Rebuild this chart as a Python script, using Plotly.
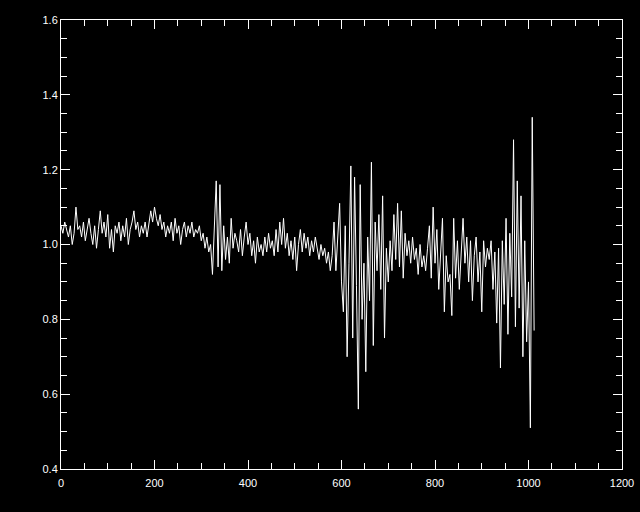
import numpy as np
import plotly.graph_objects as go

x_step = 4
values = [
    1.05, 1.03, 1.06, 1.04, 1.02, 1.05, 1.00, 1.03, 1.10, 1.04,
    1.05, 1.02, 1.06, 1.01, 1.04, 1.07, 1.03, 1.00, 1.05, 0.99,
    1.04, 1.09, 1.03, 1.06, 1.02, 1.08, 0.99, 1.04, 0.98, 1.05,
    1.03, 1.06, 1.01, 1.05, 1.02, 1.07, 1.00, 1.04, 1.06, 1.09,
    1.04, 1.06, 1.02, 1.05, 1.03, 1.06, 1.02, 1.05, 1.09, 1.06,
    1.10, 1.07, 1.05, 1.08, 1.04, 1.06, 1.02, 1.05, 1.03, 1.06,
    1.01, 1.07, 1.03, 1.05, 1.00, 1.04, 1.06, 1.02, 1.05, 1.03,
    1.06, 1.02, 1.04, 1.03, 1.05, 1.01, 1.03, 0.99, 1.02, 0.98,
    1.00, 0.92, 1.05, 1.17, 0.94, 1.16, 0.93, 1.05, 0.96, 1.02,
    0.95, 1.07, 0.99, 1.03, 1.01, 0.98, 1.04, 0.97, 1.02, 1.06,
    1.00, 1.03, 0.97, 1.01, 0.95, 1.02, 0.98, 1.00, 0.97, 1.02,
    0.98, 1.03, 0.99, 1.01, 0.97, 1.04, 0.98, 1.06, 1.00, 1.07,
    0.99, 1.03, 0.97, 1.01, 0.96, 1.02, 0.93, 1.00, 1.04, 0.98,
    1.03, 0.99, 1.02, 0.97, 1.01, 0.98, 1.02, 0.99, 0.96, 1.00,
    0.97, 0.99, 0.95, 0.98, 0.93, 0.97, 1.06, 0.93, 1.01, 1.11,
    0.90, 0.82, 1.05, 0.70, 0.95, 1.21, 0.75, 1.18, 0.89, 0.56,
    1.16, 0.80, 0.95, 0.66, 1.02, 0.85, 1.22, 0.73, 1.06, 0.93,
    1.08, 0.88, 1.13, 0.75, 0.99, 0.90, 1.01, 0.93, 1.08, 0.96,
    1.11, 0.94, 1.09, 0.91, 1.03, 0.97, 1.01, 0.95, 1.02, 0.96,
    0.99, 0.92, 1.00, 0.94, 0.97, 0.93, 0.99, 1.05, 0.91, 1.10,
    0.95, 1.04, 0.88, 0.99, 1.07, 0.82, 0.97, 0.90, 0.92, 0.81,
    1.07, 0.91, 1.01, 0.88, 0.96, 1.07, 0.95, 1.02, 0.90, 1.01,
    0.85, 0.97, 1.02, 0.90, 0.98, 0.82, 1.01, 0.94, 0.99, 0.96,
    1.01, 0.88, 0.98, 0.79, 0.99, 0.67, 1.01, 0.84, 1.07, 0.76,
    1.03, 0.86, 1.28, 0.78, 1.17, 0.83, 1.13, 0.70, 1.01, 0.74,
    0.90, 0.51, 1.34, 0.77,
]
x_vals = [i * x_step for i in range(len(values))]

x_range = [0, 1200]
y_range = [0.4, 1.6]
x_ticks = [0, 200, 400, 600, 800, 1000, 1200]
x_ticklabels = ["0", "200", "400", "600", "800", "1000", "1200"]
y_ticks = [0.4, 0.6, 0.8, 1.0, 1.2, 1.4, 1.6]
y_ticklabels = ["0.4", "0.6", "0.8", "1.0", "1.2", "1.4", "1.6"]

fig = go.Figure(go.Scatter(x=x_vals, y=values, mode="lines",
                           line=dict(color="white", width=1), hoverinfo="skip"))

axis_common = dict(
    showgrid=False, zeroline=False, showline=True, linecolor="white", linewidth=1,
    mirror="ticks", ticks="inside", ticklen=9, tickcolor="white", tickwidth=1,
    automargin=False, ticklabeloverflow="allow",
    tickfont=dict(family="Liberation Sans, Arial, sans-serif", size=11, color="white"),
)
fig.update_xaxes(range=x_range, tickvals=x_ticks, ticktext=x_ticklabels, ticklabelstandoff=4,
                 minor=dict(dtick=50, ticks="inside", ticklen=6, tickcolor="white", tickwidth=1, showgrid=False),
                 **axis_common)
fig.update_yaxes(range=y_range, tickvals=y_ticks, ticktext=y_ticklabels,
                 minor=dict(dtick=0.05, tick0=0.4, ticks="inside", ticklen=6, tickcolor="white", tickwidth=1, showgrid=False),
                 **axis_common)
fig.update_layout(
    width=640, height=512, paper_bgcolor="black", plot_bgcolor="black",
    margin=dict(l=61, r=18, t=20, b=43), showlegend=False,
)
fig.write_html("out.html", config={"displayModeBar": False},
               post_script="document.body.style.margin='0';document.body.style.background='black';")
